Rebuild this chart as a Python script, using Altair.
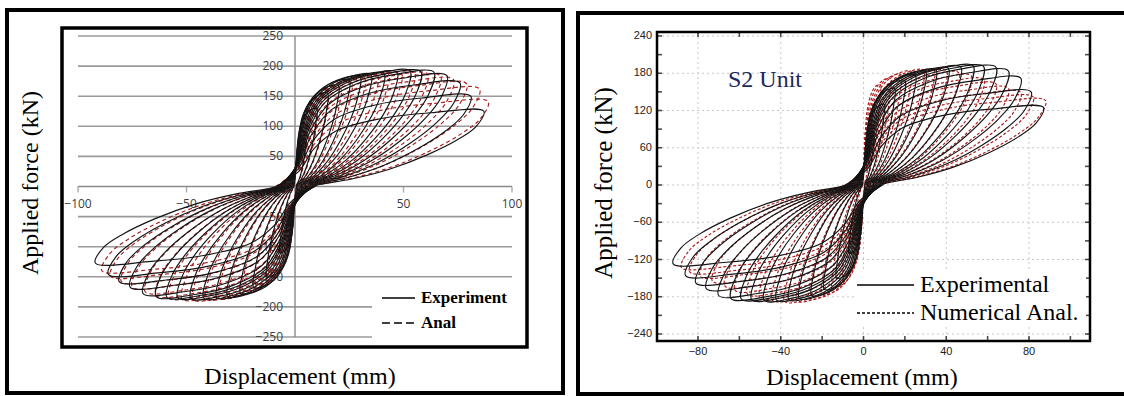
import altair as alt
import pandas as pd

# ---------------- data ----------------
# Experimental hysteresis (same test shown in both panels): peak of each cycle
EXP_POS_DISP = [5, 10, 15, 20, 25, 30, 35, 41, 47, 53, 58, 64, 70, 76, 81, 87]
EXP_POS_FORCE = [80, 130, 155, 168, 177, 183, 186, 188, 190, 192, 191, 190, 184, 172, 150, 125]
EXP_NEG_DISP = [-7, -13, -19, -25, -31, -36, -42, -48, -54, -59, -64, -70, -76, -81, -86, -92]
EXP_NEG_FORCE = [-110, -150, -168, -178, -183, -185, -186, -186, -185, -184, -183, -178, -167, -158, -146, -127]

# Left panel analysis ("Anal")
LA_POS_DISP = [5, 10, 15, 21, 26, 32, 38, 43, 49, 55, 61, 67, 73, 79, 85, 89]
LA_POS_FORCE = [70, 120, 148, 163, 173, 180, 184, 187, 188, 189, 187, 184, 178, 171, 162, 141]
LA_NEG_DISP = [-6, -12, -18, -24, -30, -35, -41, -47, -52, -58, -64, -69, -75, -80, -85, -89]
LA_NEG_FORCE = [-100, -142, -162, -173, -181, -185, -187, -188, -187, -185, -181, -175, -167, -158, -149, -140]

# Right panel analysis ("Numerical Anal.")
RA_POS_DISP = [4, 8, 13, 18, 23, 29, 34, 40, 46, 52, 58, 64, 70, 76, 82, 88]
RA_POS_FORCE = [115, 162, 172, 178, 183, 185, 185, 184, 181, 176, 170, 163, 156, 149, 142, 136]
RA_NEG_DISP = [-5, -10, -15, -20, -26, -32, -38, -44, -50, -56, -62, -67, -73, -79, -84, -88]
RA_NEG_FORCE = [-95, -145, -165, -176, -183, -187, -188, -186, -182, -176, -170, -163, -155, -147, -140, -133]

# Loop outline, as fractions of each cycle's peak
LOAD_FRAC_X = [-0.10, 0.02, 0.10, 0.22, 0.45, 0.72, 1.00]
LOAD_FRAC_Y = [0.00, 0.20, 0.50, 0.74, 0.90, 0.98, 1.00]
UNLOAD_FRAC_X = [0.96, 0.86, 0.70, 0.50, 0.30, 0.12]
UNLOAD_FRAC_Y = [0.80, 0.62, 0.42, 0.23, 0.10, 0.02]

# Axis ticks / labels
LEFT_Y_GRID = [-250, -200, -150, -100, -50, 50, 100, 150, 200, 250]
LEFT_Y_LABELS = [-250, -200, -150, -100, -50, 50, 100, 150, 200, 250]
LEFT_X_TICKS = [-100, -50, 0, 50, 100]
LEFT_X_LABELS = [-100, -50, 50, 100]
RIGHT_X_LABELS = [-80, -40, 0, 40, 80]
RIGHT_X_MINOR = [-80, -60, -40, -20, 0, 20, 40, 60, 80, 100]
RIGHT_Y_LABELS = [240, 180, 120, 60, 0, -60, -120, -180, -240]
RIGHT_Y_MINOR = [240, 210, 180, 150, 120, 90, 60, 30, 0, -30, -60, -90, -120, -150, -180, -210, -240]


# ---------------- helpers ----------------
def loop_table(pos_d, pos_f, neg_d, neg_f):
    rows = []
    for c, (P, Fp, N, Fn) in enumerate(zip(pos_d, pos_f, neg_d, neg_f)):
        pts = []
        for fx, fy in zip(LOAD_FRAC_X, LOAD_FRAC_Y):
            pts.append((fx * P, fy * Fp))
        for fx, fy in zip(UNLOAD_FRAC_X, UNLOAD_FRAC_Y):
            pts.append((fx * P, fy * Fp))
        for fx, fy in zip(LOAD_FRAC_X, LOAD_FRAC_Y):
            pts.append((fx * N, fy * Fn))
        for fx, fy in zip(UNLOAD_FRAC_X, UNLOAD_FRAC_Y):
            pts.append((fx * N, fy * Fn))
        pts.append(pts[0])
        for k, (x, y) in enumerate(pts):
            rows.append({"cycle": c, "k": k, "x": x, "y": y})
    return pd.DataFrame(rows)


ONE = pd.DataFrame({"k": [0]})

LX = alt.Scale(domain=[-100, 100], range=[78, 512], nice=False, zero=False)
LY = alt.Scale(domain=[-250, 250], range=[337, 36], nice=False, zero=False)
RX = alt.Scale(domain=[-80, 80], range=[698, 1029], nice=False, zero=False)
RY = alt.Scale(domain=[-240, 240], range=[334, 36], nice=False, zero=False)

SERIF = "Liberation Serif"
EXP_COLOR = "#141414"
ANA_COLOR = "#a81c1c"


def curves(df, sx, sy, color, dash=None, width=1.1):
    kw = dict(interpolate="catmull-rom", color=color, strokeWidth=width)
    if dash:
        kw["strokeDash"] = dash
    return alt.Chart(df).mark_line(**kw).encode(
        x=alt.X("x:Q", scale=sx, axis=None),
        y=alt.Y("y:Q", scale=sy, axis=None),
        detail="cycle:N",
        order="k:Q",
    )


def frame(x0, x1, y0, y1, w):
    return alt.Chart(ONE).mark_rect(filled=False, stroke="black", strokeWidth=w).encode(
        x=alt.value(x0), x2=alt.value(x1), y=alt.value(y0), y2=alt.value(y1)
    )


def box(x0, x1, y0, y1, fill="white"):
    return alt.Chart(ONE).mark_rect(fill=fill).encode(
        x=alt.value(x0), x2=alt.value(x1), y=alt.value(y0), y2=alt.value(y1)
    )


def label(text, x, y, size, angle=0, weight="normal", color="black", align="center", font=SERIF):
    return alt.Chart(ONE).mark_text(
        text=text, fontSize=size, font=font, angle=angle, fontWeight=weight,
        color=color, align=align, baseline="middle"
    ).encode(x=alt.value(x), y=alt.value(y))


def seg(x0, x1, y, dash=None, width=1.5):
    kw = dict(color="black", strokeWidth=width)
    if dash:
        kw["strokeDash"] = dash
    return alt.Chart(ONE).mark_rule(**kw).encode(
        x=alt.value(x0), x2=alt.value(x1), y=alt.value(y)
    )


layers = []

# ================= LEFT PANEL =================
layers.append(box(0, 1124, 0, 396))
grid_l = pd.DataFrame({"y": LEFT_Y_GRID, "x0": -100, "x1": 100})
layers.append(alt.Chart(grid_l).mark_rule(color="#9a9a9a", strokeWidth=1.6).encode(
    x=alt.X("x0:Q", scale=LX, axis=None), x2="x1:Q", y=alt.Y("y:Q", scale=LY, axis=None)))
# axes crossing at zero
layers.append(alt.Chart(pd.DataFrame({"x0": [-100], "x1": [100], "y": [0]})).mark_rule(
    color="#8a8a8a", strokeWidth=1.6).encode(
    x=alt.X("x0:Q", scale=LX, axis=None), x2="x1:Q", y=alt.Y("y:Q", scale=LY, axis=None)))
layers.append(alt.Chart(pd.DataFrame({"x": [0], "y0": [-250], "y1": [250]})).mark_rule(
    color="#8a8a8a", strokeWidth=1.4).encode(
    x=alt.X("x:Q", scale=LX, axis=None), y=alt.Y("y0:Q", scale=LY, axis=None), y2="y1:Q"))
layers.append(alt.Chart(pd.DataFrame({"x": LEFT_X_TICKS, "y": 0})).mark_tick(
    orient="vertical", size=6, thickness=1.4, yOffset=3, color="#8a8a8a").encode(
    x=alt.X("x:Q", scale=LX, axis=None), y=alt.Y("y:Q", scale=LY, axis=None)))
# legend background hides grid lines
layers.append(box(372, 522, 286, 344))
# tick labels
layers.append(alt.Chart(pd.DataFrame({"y": LEFT_Y_LABELS, "x": 0})).mark_text(
    font="Open Sans", fontSize=12, color="#3c3c3c", align="right", baseline="middle", dx=-12).encode(
    x=alt.X("x:Q", scale=LX, axis=None), y=alt.Y("y:Q", scale=LY, axis=None), text="y:Q"))
layers.append(alt.Chart(pd.DataFrame({"x": LEFT_X_LABELS, "y": 0})).mark_text(
    font="Open Sans", fontSize=12, color="#3c3c3c", align="center", baseline="middle", dy=17).encode(
    x=alt.X("x:Q", scale=LX, axis=None), y=alt.Y("y:Q", scale=LY, axis=None), text="x:Q"))
# curves
layers.append(curves(loop_table(LA_POS_DISP, LA_POS_FORCE, LA_NEG_DISP, LA_NEG_FORCE),
                     LX, LY, ANA_COLOR, dash=[4, 3], width=1.15))
layers.append(curves(loop_table(EXP_POS_DISP, EXP_POS_FORCE, EXP_NEG_DISP, EXP_NEG_FORCE),
                     LX, LY, EXP_COLOR, width=1.15))
# legend
layers.append(seg(382, 415, 298))
layers.append(seg(382, 415, 323, dash=[8, 4]))
layers.append(label("Experiment", 421, 298, 17, weight="bold", align="left"))
layers.append(label("Anal", 421, 323, 17, weight="bold", align="left"))
# titles
layers.append(label("Displacement (mm)", 300, 377, 24))
layers.append(label("Applied force (kN)", 31, 183, 24, angle=270))
# frames
layers.append(frame(62, 527, 28, 347, 3.5))
layers.append(frame(7, 563, 10, 393, 4))

# ================= RIGHT PANEL =================
layers.append(alt.Chart(pd.DataFrame({"x": RIGHT_X_LABELS})).mark_rule(
    color="#c8c8c8", strokeWidth=1, strokeDash=[2, 3]).encode(
    x=alt.X("x:Q", scale=RX, axis=None), y=alt.value(32), y2=alt.value(341)))
layers.append(alt.Chart(pd.DataFrame({"y": RIGHT_Y_LABELS})).mark_rule(
    color="#c8c8c8", strokeWidth=1, strokeDash=[2, 3]).encode(
    y=alt.Y("y:Q", scale=RY, axis=None), x=alt.value(657), x2=alt.value(1090)))
layers.append(curves(loop_table(RA_POS_DISP, RA_POS_FORCE, RA_NEG_DISP, RA_NEG_FORCE),
                     RX, RY, ANA_COLOR, dash=[3, 2], width=1.15))
layers.append(curves(loop_table(EXP_POS_DISP, EXP_POS_FORCE, EXP_NEG_DISP, EXP_NEG_FORCE),
                     RX, RY, EXP_COLOR, width=1.15))
# frame ticks (inward)
xt = pd.DataFrame({"x": RIGHT_X_MINOR})
yt = pd.DataFrame({"y": RIGHT_Y_MINOR})
layers.append(alt.Chart(xt).mark_tick(orient="vertical", size=5, thickness=1.6, yOffset=-2.5, color="black").encode(
    x=alt.X("x:Q", scale=RX, axis=None), y=alt.value(341)))
layers.append(alt.Chart(xt).mark_tick(orient="vertical", size=5, thickness=1.6, yOffset=2.5, color="black").encode(
    x=alt.X("x:Q", scale=RX, axis=None), y=alt.value(32)))
layers.append(alt.Chart(yt).mark_tick(orient="horizontal", size=5, thickness=1.6, xOffset=2.5, color="black").encode(
    y=alt.Y("y:Q", scale=RY, axis=None), x=alt.value(657)))
layers.append(alt.Chart(yt).mark_tick(orient="horizontal", size=5, thickness=1.6, xOffset=-2.5, color="black").encode(
    y=alt.Y("y:Q", scale=RY, axis=None), x=alt.value(1090)))
# tick labels
layers.append(alt.Chart(pd.DataFrame({"x": RIGHT_X_LABELS})).mark_text(
    font="Liberation Sans", fontSize=11, color="#222", align="center", baseline="middle").encode(
    x=alt.X("x:Q", scale=RX, axis=None), y=alt.value(352), text="x:Q"))
layers.append(alt.Chart(pd.DataFrame({"y": RIGHT_Y_LABELS})).mark_text(
    font="Liberation Sans", fontSize=11, color="#222", align="right", baseline="middle").encode(
    y=alt.Y("y:Q", scale=RY, axis=None), x=alt.value(652), text="y:Q"))
# annotation + legend
layers.append(label("S2 Unit", 765, 80, 24, color="#1d2860"))
layers.append(box(855, 1086, 272, 326))
layers.append(seg(857, 914, 285))
layers.append(seg(857, 914, 313, dash=[3, 2], width=1.3))
layers.append(label("Experimental", 920, 285, 24, align="left"))
layers.append(label("Numerical Anal.", 920, 313, 24, align="left"))
# titles
layers.append(label("Displacement (mm)", 862, 378, 24))
layers.append(label("Applied force (kN)", 604, 183, 25, angle=270))
# frames
layers.append(frame(657, 1090, 32, 341, 2.5))
layers.append(frame(578, 1130, 13, 394, 4))

chart = alt.layer(*layers).resolve_scale(x="independent", y="independent").properties(
    width=1124, height=396,
    autosize=alt.AutoSizeParams(type="none"),
    padding=0,
    background="white",
).configure_view(stroke=None)

chart.save("out.html", embed_options={"renderer": "svg", "actions": False})
